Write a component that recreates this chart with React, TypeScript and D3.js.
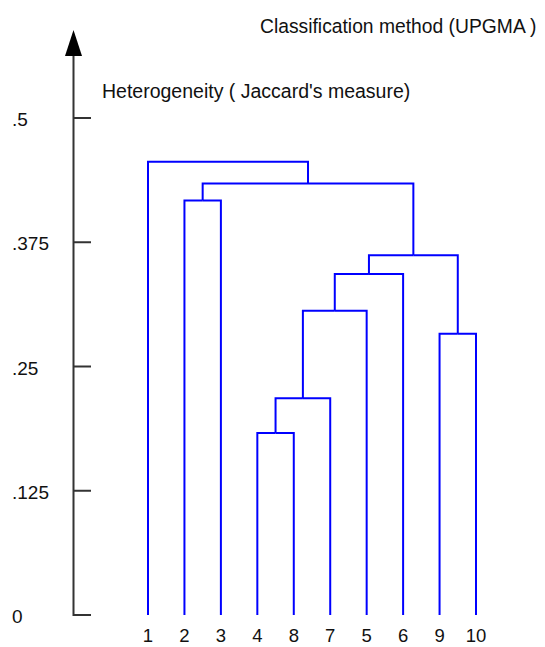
import React from "react";
import * as d3 from "d3";

// leaf order along the bottom
const leafLabels = ["1", "2", "3", "4", "8", "7", "5", "6", "9", "10"];
// linkage: ids 0..9 are leaves (in display order), 10+ are merged clusters
const mergePairs: [number, number][] = [
  [3, 4],
  [10, 5],
  [11, 6],
  [12, 7],
  [8, 9],
  [13, 14],
  [1, 2],
  [16, 15],
  [0, 17],
];
const mergeHeights = [0.183, 0.218, 0.306, 0.343, 0.283, 0.362, 0.417, 0.434, 0.456];
const tickValues = [0, 0.125, 0.25, 0.375, 0.5];
const tickLabels = ["0", ".125", ".25", ".375", ".5"];

const W = 545;
const H = 647;
const axisX = 73.5;
const font = "'Liberation Sans', Arial, sans-serif";

type Node = { id: number; name?: string; height: number; children?: Node[] };

function buildTree(): Node {
  const nodes: Node[] = leafLabels.map((name, i) => ({ id: i, name, height: 0 }));
  mergePairs.forEach(([a, b], i) => {
    nodes.push({ id: leafLabels.length + i, height: mergeHeights[i], children: [nodes[a], nodes[b]] });
  });
  return nodes[nodes.length - 1];
}

export default function App() {
  const x = d3.scalePoint<string>().domain(leafLabels).range([148, 476]);
  const y = d3.scaleLinear().domain([0, 0.5]).range([615, 118]);

  const root = d3.hierarchy(buildTree());
  // leaves at their point, internal nodes centred over their children
  const xPos = new Map<number, number>();
  root.eachAfter((n) => {
    if (!n.children) xPos.set(n.data.id, x(n.data.name!)!);
    else xPos.set(n.data.id, d3.mean(n.children, (c) => xPos.get(c.data.id)!)!);
  });

  const links = root.links().map((l) => {
    const p = d3.path();
    p.moveTo(xPos.get(l.target.data.id)!, y(l.target.data.height));
    p.lineTo(xPos.get(l.target.data.id)!, y(l.source.data.height));
    p.lineTo(xPos.get(l.source.data.id)!, y(l.source.data.height));
    return p.toString();
  });

  const arrow = d3.path();
  arrow.moveTo(axisX, 30);
  arrow.lineTo(axisX - 8.5, 56);
  arrow.lineTo(axisX + 8.5, 56);
  arrow.closePath();

  return (
    <svg
      width={W}
      height={H}
      style={{ position: "absolute", left: 0, top: 0, background: "#fff" }}
      fontFamily={font}
    >
      <text x={260} y={33} fontSize={19.3} fill="#111">
        Classification method (UPGMA )
      </text>
      <text x={102} y={98} fontSize={19.5} fill="#111">
        Heterogeneity ( Jaccard's measure)
      </text>

      {/* axis */}
      <line x1={axisX} x2={axisX} y1={50} y2={y(0) + 1} stroke="#333" strokeWidth={2} />
      <path d={arrow.toString()} fill="#000" />
      {tickValues.map((v, i) => (
        <g key={v}>
          <line x1={axisX} x2={91} y1={y(v)} y2={y(v)} stroke="#333" strokeWidth={2} />
          <text x={12} y={y(v) + 8} fontSize={19} fill="#111">
            {tickLabels[i]}
          </text>
        </g>
      ))}

      {/* dendrogram */}
      {links.map((d, i) => (
        <path key={i} d={d} fill="none" stroke="#0000ff" strokeWidth={2} />
      ))}

      {leafLabels.map((l) => (
        <text key={l} x={x(l)} y={642} fontSize={18.5} textAnchor="middle" fill="#111">
          {l}
        </text>
      ))}
    </svg>
  );
}
